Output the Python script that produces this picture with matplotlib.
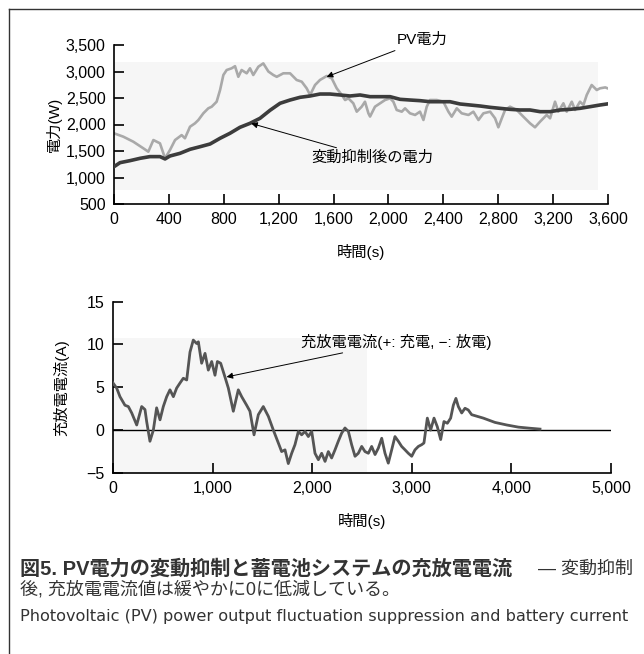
import matplotlib
matplotlib.use("Agg")
import matplotlib.pyplot as plt
from matplotlib.lines import Line2D
from matplotlib.patches import Rectangle

plt.rcParams["font.family"] = ["Liberation Sans", "Noto Sans CJK JP", "DejaVu Sans"]

# --- PV power (raw) [s, W]
pv_t = [0, 68, 141, 214, 250, 287, 335, 372, 408, 445,
        493, 517, 554, 590, 615, 651, 687, 712, 748, 773,
        797, 821, 857, 882, 906, 930, 967, 991, 1015, 1052,
        1088, 1125, 1161, 1186, 1234, 1283, 1331, 1368, 1404, 1429,
        1465, 1501, 1550, 1587, 1623, 1660, 1684, 1708, 1744, 1769,
        1805, 1829, 1854, 1866, 1902, 1939, 1975, 2012, 2036, 2060,
        2097, 2121, 2157, 2194, 2230, 2255, 2279, 2303, 2352, 2400,
        2437, 2461, 2498, 2534, 2583, 2619, 2656, 2692, 2741, 2777,
        2801, 2826, 2850, 2886, 2935, 2983, 3032, 3068, 3105, 3153,
        3178, 3214, 3238, 3275, 3299, 3336, 3360, 3396, 3421, 3445,
        3481, 3518, 3542, 3580, 3600]
pv_w = [1834, 1770, 1675, 1550, 1487, 1707, 1645, 1362, 1519, 1707,
        1800, 1740, 1958, 2022, 2085, 2211, 2305, 2336, 2430, 2651,
        2934, 3028, 3060, 3100, 2900, 3028, 2966, 3060, 2934, 3090,
        3153, 3000, 2934, 2900, 2966, 2966, 2840, 2808, 2683, 2557,
        2745, 2840, 2915, 2870, 2683, 2557, 2462, 2494, 2400, 2242,
        2336, 2430, 2211, 2150, 2336, 2400, 2462, 2494, 2430, 2274,
        2242, 2305, 2211, 2180, 2242, 2085, 2336, 2462, 2462, 2430,
        2242, 2148, 2305, 2211, 2180, 2242, 2085, 2211, 2242, 2117,
        1947, 2117, 2274, 2336, 2274, 2148, 2022, 1947, 2054, 2180,
        2117, 2430, 2242, 2400, 2242, 2430, 2274, 2430, 2368, 2557,
        2745, 2651, 2683, 2700, 2680]

# --- power after fluctuation suppression
sm_t = [0, 44, 117, 190, 262, 335, 372, 408, 481, 554,
        627, 700, 773, 845, 918, 991, 1064, 1137, 1210, 1283,
        1356, 1429, 1501, 1574, 1647, 1720, 1793, 1866, 1939, 2012,
        2085, 2157, 2230, 2303, 2376, 2449, 2522, 2595, 2668, 2741,
        2813, 2886, 2959, 3032, 3105, 3178, 3251, 3323, 3396, 3469,
        3542, 3600]
sm_w = [1204, 1280, 1318, 1362, 1394, 1394, 1350, 1406, 1456, 1532,
        1581, 1632, 1740, 1834, 1947, 2022, 2117, 2268, 2400, 2462,
        2513, 2538, 2575, 2575, 2557, 2538, 2557, 2525, 2525, 2525,
        2475, 2462, 2450, 2430, 2430, 2430, 2387, 2368, 2349, 2324,
        2305, 2286, 2274, 2274, 2242, 2242, 2274, 2286, 2305, 2336,
        2368, 2390]

# --- battery charge/discharge current [s, A]
cur_t = [0, 37, 70, 120, 154, 188, 238, 288, 321, 338,
         371, 405, 438, 472, 505, 539, 572, 606, 639, 673,
         706, 740, 773, 806, 840, 857, 890, 924, 957, 991,
         1024, 1048, 1081, 1124, 1158, 1208, 1258, 1292, 1342, 1375,
         1416, 1459, 1509, 1560, 1610, 1660, 1693, 1727, 1760, 1794,
         1827, 1861, 1894, 1928, 1961, 1995, 2028, 2062, 2095, 2129,
         2162, 2195, 2229, 2262, 2296, 2329, 2363, 2396, 2430, 2463,
         2497, 2530, 2564, 2597, 2631, 2664, 2698, 2731, 2764, 2798,
         2831, 2865, 2898, 2932, 2965, 2999, 3032, 3066, 3099, 3122,
         3156, 3189, 3223, 3256, 3290, 3323, 3357, 3390, 3417, 3443,
         3467, 3501, 3534, 3567, 3601, 3718, 3835, 3953, 4070, 4187,
         4287]
cur_a = [5.5, 4.9, 3.9, 2.9, 2.75, 2.0, 0.6, 2.75, 2.4, 1.0,
         -1.3, 0.0, 2.6, 1.2, 2.75, 3.9, 4.7, 3.9, 4.9, 5.5,
         6.05, 5.85, 9.1, 10.5, 10.1, 10.3, 7.8, 8.95, 7.0, 8.0,
         6.4, 8.0, 7.8, 6.2, 4.9, 2.2, 4.7, 3.9, 2.9, 2.2,
         -0.55, 1.8, 2.75, 1.6, 0.0, -1.5, -2.5, -2.3, -3.9, -2.7,
         -1.7, -0.15, -0.55, -0.15, -0.75, -0.15, -2.7, -3.45, -2.7, -3.65,
         -2.5, -3.25, -2.3, -1.3, -0.35, 0.25, -0.15, -1.7, -3.05, -2.7,
         -1.9, -2.5, -2.7, -1.9, -2.85, -2.1, -0.95, -2.7, -3.85, -2.3,
         -0.75, -1.3, -1.9, -2.3, -2.7, -3.05, -2.3, -1.9, -1.7, -1.5,
         1.4, 0.0, 1.4, 0.4, -1.1, 1.0, 0.8, 1.4, 2.9, 3.7,
         2.75, 2.0, 2.55, 2.35, 1.8, 1.4, 0.9, 0.6, 0.35, 0.22,
         0.12]

top_xticks = [0, 400, 800, 1200, 1600, 2000, 2400, 2800, 3200, 3600]
top_xlabels = ["0", "400", "800", "1,200", "1,600", "2,000", "2,400", "2,800", "3,200", "3,600"]
top_yticks = [500, 1000, 1500, 2000, 2500, 3000, 3500]
top_ylabels = ["500", "1,000", "1,500", "2,000", "2,500", "3,000", "3,500"]
bot_xticks = [0, 1000, 2000, 3000, 4000, 5000]
bot_xlabels = ["0", "1,000", "2,000", "3,000", "4,000", "5,000"]
bot_yticks = [-5, 0, 5, 10, 15]
bot_ylabels = ["\u22125", "0", "5", "10", "15"]

W, H = 644, 654
fig = plt.figure(figsize=(W / 100, H / 100), dpi=100)


def style(ax):
    for s in ["top", "right"]:
        ax.spines[s].set_visible(False)
    for s in ["left", "bottom"]:
        ax.spines[s].set_linewidth(1.2)
    ax.tick_params(direction="in", length=7, width=1.2, labelsize=11.5, pad=6)


# top chart
ax1 = fig.add_axes([114 / W, 1 - 204 / H, 494 / W, 159 / H])
style(ax1)
ax1.add_patch(Rectangle((0, 0.09), 0.98, 0.8, transform=ax1.transAxes,
                        color="#f6f6f6", zorder=0, lw=0))
ax1.plot(pv_t, pv_w, color="#a9a9a9", lw=1.9, zorder=2)
ax1.plot(sm_t, sm_w, color="#3c3c3c", lw=2.6, zorder=3)
ax1.set_xlim(0, 3600)
ax1.set_ylim(500, 3500)
ax1.set_xticks(top_xticks, top_xlabels)
ax1.set_yticks(top_yticks, top_ylabels)
ax1.set_xlabel("時間(s)", fontsize=11, labelpad=12)
ax1.set_ylabel("電力(W)", fontsize=11, labelpad=3)
ax1.annotate("PV電力", xy=(1550, 2900), xytext=(0.572, 1.03), textcoords="axes fraction",
             fontsize=11, ha="left", va="center",
             arrowprops=dict(arrowstyle="-|>", color="black", lw=0.7,
                             mutation_scale=9, shrinkA=1, shrinkB=0))
ax1.annotate("変動抑制後の電力", xy=(1000, 2020), xytext=(0.40, 0.289),
             textcoords="axes fraction", fontsize=11, ha="left", va="center",
             arrowprops=dict(arrowstyle="-|>", color="black", lw=0.7,
                             mutation_scale=9, shrinkA=1, shrinkB=0))

# bottom chart
ax2 = fig.add_axes([113 / W, 1 - 473 / H, 498 / W, 171.5 / H])
style(ax2)
ax2.add_patch(Rectangle((0, 0), 0.51, 0.79, transform=ax2.transAxes,
                        color="#f6f6f6", zorder=0, lw=0))
ax2.axhline(0, color="black", lw=1.0, zorder=1)
ax2.plot(cur_t, cur_a, color="#555555", lw=2.0, zorder=3)
ax2.set_xlim(0, 5000)
ax2.set_ylim(-5, 15)
ax2.set_xticks(bot_xticks, bot_xlabels)
ax2.set_yticks(bot_yticks, bot_ylabels)
ax2.set_xlabel("時間(s)", fontsize=11, labelpad=12)
ax2.set_ylabel("充放電電流(A)", fontsize=11, labelpad=12)
ax2.annotate("充放電電流(+: 充電, −: 放電)", xy=(1140, 6.2), xytext=(0.377, 0.765),
             textcoords="axes fraction", fontsize=11, ha="left", va="center",
             arrowprops=dict(arrowstyle="-|>", color="black", lw=0.7,
                             mutation_scale=9, shrinkA=1, shrinkB=0))

# frame lines
fig.add_artist(Line2D([9 / W, 9 / W], [0, 1 - 9 / H], transform=fig.transFigure,
                      color="#333333", lw=1.0))
fig.add_artist(Line2D([9 / W, 1], [1 - 9 / H, 1 - 9 / H], transform=fig.transFigure,
                      color="#333333", lw=1.0))

# caption
fig.text(20 / W, 1 - 569 / H, "図5. PV電力の変動抑制と蓄電池システムの充放電電流",
         fontsize=14.5, fontweight="bold", color="#333333", ha="left", va="center")
fig.text(633 / W, 1 - 569 / H, "— 変動抑制", fontsize=13, color="#333333",
         ha="right", va="center")
fig.text(20 / W, 1 - 590 / H, "後, 充放電電流値は緩やかに0に低減している。",
         fontsize=13, color="#333333", ha="left", va="center")
fig.text(20 / W, 1 - 617 / H,
         "Photovoltaic (PV) power output fluctuation suppression and battery current",
         fontsize=11.6, color="#333333", ha="left", va="center", family="DejaVu Sans")

fig.savefig("out.png", dpi=100)
